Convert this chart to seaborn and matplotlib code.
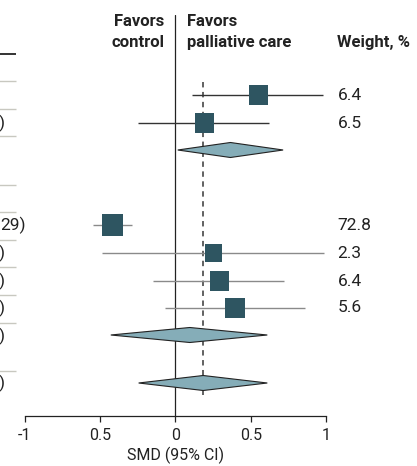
import matplotlib
matplotlib.use("Agg")
import matplotlib.pyplot as plt
from matplotlib.patches import Polygon
import seaborn as sns

# study rows
study_smd = [0.55, 0.19, -0.42, 0.255, 0.29, 0.395]
study_lo = [0.11, -0.25, -0.55, -0.49, -0.15, -0.07]
study_hi = [0.98, 0.62, -0.29, 0.99, 0.72, 0.86]
study_weight = ["6.4", "6.5", "72.8", "2.3", "6.4", "5.6"]

# pooled estimates (diamonds)
pooled_smd = [0.365, 0.095, 0.184]
pooled_lo = [0.015, -0.43, -0.245]
pooled_hi = [0.715, 0.61, 0.61]

overall = 0.184
xticks = [-1, -0.5, 0, 0.5, 1]
xticklabels = ["-1", "0.5", "0", "0.5", "1"]

# visible ends of the (cropped) CI column on the left
ci_fragments = [")", "29)", ")", ")", ")", ")", ")"]

# layout (pixel rows from top)
study_y = [95, 123, 225, 253, 281, 308]
study_size = [190, 190, 230, 150, 190, 190]
study_lc = ["#333333", "#333333", "#8a8a8a", "#8a8a8a", "#8a8a8a", "#8a8a8a"]
pooled_y = [150, 335, 383]
frag_y = [123, 225, 253, 281, 308, 336, 383]
frag_x = [-1.133, -1.162, -1.133, -1.133, -1.133, -1.133, -1.133]
frag_ha = ["right", "left", "right", "right", "right", "right", "right"]
sep_y = [81, 109, 136, 185, 212, 240, 267, 295, 323, 371]

sns.set_theme(style="white")
plt.rcParams["font.family"] = ["Roboto", "DejaVu Sans"]
TXT = "#222222"

fig = plt.figure(figsize=(4.17, 4.66), dpi=100)
ax = fig.add_axes([25 / 417, 50 / 466, 301 / 417, 401 / 466])
ax.set_xlim(-1, 1)
ax.set_ylim(416, 15)

ax.axvline(0, color="#222222", lw=0.9)
ax.vlines(overall, 82, 395, color="#555555", lw=1.3, linestyles=(0, (3, 2.5)))

for y, lo, hi, c in zip(study_y, study_lo, study_hi, study_lc):
    ax.hlines(y, lo, hi, color=c, lw=1.0)

sns.scatterplot(x=study_smd, y=study_y, marker="s", s=study_size, color="#2e5561",
                edgecolor="none", linewidth=0, ax=ax, zorder=3)

for y, m, lo, hi in zip(pooled_y, pooled_smd, pooled_lo, pooled_hi):
    ax.add_patch(Polygon([[lo, y], [m, y - 7.5], [hi, y], [m, y + 7.5]], closed=True,
                         facecolor="#85adb8", edgecolor="#222222", lw=0.8, zorder=3))

# weights
for y, w in zip(study_y, study_weight):
    ax.text(1.076, y, w, ha="left", va="center", fontsize=12.5, color=TXT, clip_on=False)

# cropped CI text on the left
for y, t, x, ha in zip(frag_y, ci_fragments, frag_x, frag_ha):
    ax.text(x, y, t, ha=ha, va="center", fontsize=12.5, color=TXT, clip_on=False)

# left table separators
ax.hlines(54, -1.17, -1.06, color="#333333", lw=1.4, clip_on=False)
ax.hlines(sep_y, -1.17, -1.06, color="#c8c8c0", lw=1.0, clip_on=False)

# headers
hdr = dict(fontsize=12, fontweight="bold", color=TXT, va="center", clip_on=False)
ax.text(-0.073, 21, "Favors", ha="right", **hdr)
ax.text(-0.073, 42, "control", ha="right", **hdr)
ax.text(0.078, 21, "Favors", ha="left", **hdr)
ax.text(0.078, 42, "palliative care", ha="left", **hdr)
ax.text(1.076, 42, "Weight, %", ha="left", **hdr)

ax.set_xticks(xticks)
ax.set_xticklabels(xticklabels, fontsize=11.5)
ax.set_yticks([])
ax.set_xlabel("SMD (95% CI)", fontsize=11.5, color=TXT, labelpad=2)
for s in ["top", "left", "right"]:
    ax.spines[s].set_visible(False)
ax.spines["bottom"].set_color("#222222")
ax.spines["bottom"].set_linewidth(0.9)
ax.tick_params(axis="x", direction="out", length=4, width=0.9, color="#222222",
               bottom=True, pad=5, labelcolor=TXT)

fig.savefig("out.png", dpi=100)
